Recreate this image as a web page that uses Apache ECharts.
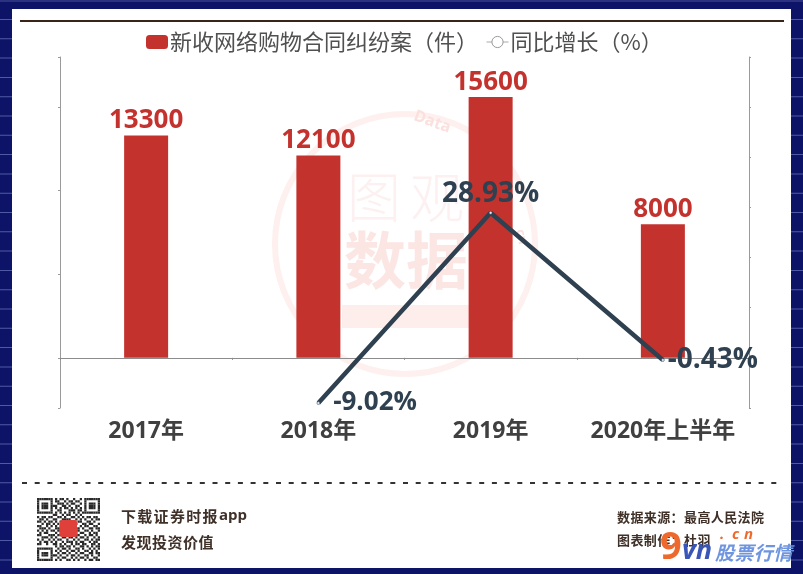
<!DOCTYPE html>
<html><head><meta charset="utf-8">
<style>html,body{margin:0;padding:0;background:#0d1468}#c{width:803px;height:574px}</style>
<script src="https://cdn.jsdelivr.net/npm/echarts@6/dist/echarts.min.js"></script>
</head><body><div id="c"></div>
<script>
var categories=['2017年','2018年','2019年','2020年上半年'];
var cases=[13300,12100,15600,8000];
var growth=[null,-9.02,28.93,-0.43];
var growthLabels=['','-9.02%','28.93%','-0.43%'];
var barName='新收网络购物合同纠纷案（件）';
var lineName='同比增长（%）';
var growthLabelPlace=[null,{position:'right',distance:13,fontSize:26},{position:'top',distance:3,fontSize:28},{position:'right',distance:3,fontSize:28}];
var FONT='"Open Sans","Noto Sans CJK SC","Noto Sans",sans-serif';
var CJK='"Noto Sans CJK SC","Noto Sans",sans-serif';
var g=[];
g.push({type:'rect',z:-10,shape:{x:0,y:0,width:803,height:574},style:{fill:'#0d1468'}});
g.push({type:'rect',z:-9,shape:{x:0,y:0,width:803,height:2},style:{fill:'#2d3280'}});
for(var y=19;y<574;y+=19.3){g.push({type:'rect',z:-9,shape:{x:0,y:y,width:803,height:1},style:{fill:'#4f5aa4'}});}
g.push({type:'rect',z:-8,shape:{x:12,y:9,width:779,height:559},style:{fill:'#fff'}});
g.push({type:'rect',z:-7,shape:{x:20,y:20,width:764,height:2},style:{fill:'#3a2418'}});
g.push({type:'line',z:-7,shape:{x1:22,y1:483,x2:780,y2:483},style:{stroke:'#333',lineWidth:2,lineDash:[5,7.7]}});
// watermark
var WM='#fbe6e4';
g.push({type:'circle',z:-6,shape:{cx:405,cy:244,r:130},style:{fill:'none',stroke:'#fdf0ee',lineWidth:6}});
g.push({type:'text',z:-6,style:{x:347,y:170,text:'图',font:'200 54px '+CJK,fill:'#fcf1f0'}});
g.push({type:'text',z:-6,style:{x:410,y:170,text:'观',font:'200 54px '+CJK,fill:'#fcf1f0'}});
g.push({type:'text',z:-6,style:{x:344,y:229,text:'数据',font:'bold 62px '+CJK,fill:WM}});
g.push({type:'rect',z:-6,shape:{x:342,y:305,width:140,height:23},style:{fill:'#fdeeec'}});
g.push({type:'text',z:-6,x:417,y:108,rotation:-0.35,style:{x:0,y:0,text:'Data',font:'bold 16px '+FONT,fill:'#fbe0de'}});
g.push({type:'text',z:-6,x:526,y:228,rotation:-1.35,style:{x:0,y:0,text:'cn',font:'bold 13px '+FONT,fill:'#fbe0de'}});
// footer text
function T(x,y,t,s,c,w,f){g.push({type:'text',z:5,style:{x:x,y:y,text:t,font:(w||'bold')+' '+s+'px '+(f||FONT),fill:c||'#3f3028',textVerticalAlign:'middle'}});}
function S(x,y,t,s,p,c,w,f){Array.from(t).forEach(function(ch,i){T(x+i*p,y,ch,s,c,w,f);});}
S(121,516,'下载证券时报',15,16.3,null,null,CJK);
T(219,516,'app',15);
S(121,542,'发现投资价值',15,15.5,null,null,CJK);
S(617,517,'数据来源：最高人民法院',13,13.4,null,null,CJK);
S(617,540,'图表制作：杜羽',13,13.4,null,null,CJK);
T(660,548,'9',38,'#ee6a2c');
T(682,551,'vn',27,'#3a55b8','italic bold');
S(720,535,'.cn',15,12,'#ee6a2c','italic bold');
S(715,553,'股票行情',19,19.4,'#6f95e0','italic bold',CJK);
// QR decoration
var qr=['1111111010110100100101111111','1000001011001011011001000001','1011101001110101100101011101','1011101110011010011001011101','1011101010101101010101011101','1000001001100011101101000001','1111111010101010101011111111','0000000110010110010100000000','1011011001101001101010110110','0110100110011110010101001011','1101011010100101101100110100','0010110101011010110011011001','1100101010110001100101100110','0111010011100000011010011011','1010101101100000011001101001','0101100010100000010110010110','1100011101100000011001011010','0011101010011011010110100101','1010010101100100101001101011','0101101010010111010110010110','1100100110101001011011001101','0000000010110110100110101011','1111111001011010011010010101','1000001010100101101001101010','1011101001011010010110011011','1011101110100101101001101001','1000001001011001010110100110','1111111010100110101001011011'];
var cell=63/28;
qr.forEach(function(r,j){for(var i=0;i<r.length;i++){if(r[i]==='1')g.push({type:'rect',z:4,shape:{x:37+i*cell,y:498+j*cell,width:cell,height:cell},style:{fill:'#2a2a2a'}});}});
g.push({type:'rect',z:5,shape:{x:60,y:520,width:17,height:17,r:2},style:{fill:'#e0403a'}});

var chart=echarts.init(document.getElementById('c'),null,{renderer:'canvas'});
chart.setOption({
 animation:false,
 textStyle:{fontFamily:FONT},
 graphic:{elements:g},
 legend:{top:26,left:141,itemGap:8,itemWidth:22,itemHeight:14,
  textStyle:{fontSize:22,color:'#505050',fontFamily:CJK,padding:[0,0,0,-3]},
  data:[{name:barName,icon:'roundRect'},
        {name:lineName,itemStyle:{color:'#fff',borderColor:'#999',borderWidth:1},lineStyle:{color:'#aaa',width:1}}]},
 grid:{left:60,right:54,top:57,bottom:166},
 xAxis:{type:'category',data:categories,
  axisLine:{onZero:true,lineStyle:{color:'#8c8c8c',width:1}},
  axisTick:{show:true,length:2,lineStyle:{color:'#8c8c8c'}},
  axisLabel:{interval:0,margin:23,fontSize:23,fontWeight:'bold',color:'#404040',fontFamily:FONT,verticalAlign:'middle'}},
 yAxis:[{type:'value',min:-3000,max:18000,
   axisLine:{show:true,lineStyle:{color:'#9a9a9a'}},
   axisTick:{show:true,length:2,lineStyle:{color:'#9a9a9a'},customValues:[-3000,0,5000,10000,15000,18000]},
   axisLabel:{show:false},splitLine:{show:false}},
  {type:'value',min:-10,max:60,interval:10,position:'right',
   axisLine:{show:true,lineStyle:{color:'#9a9a9a'}},
   axisTick:{show:true,length:2,lineStyle:{color:'#9a9a9a'}},
   axisLabel:{show:false},splitLine:{show:false}}],
 series:[
  {name:barName,type:'bar',barWidth:44,data:cases,itemStyle:{color:'#c4322e'},
   label:{show:true,position:'top',distance:2,fontSize:26,fontWeight:'bold',color:'#c4322e',fontFamily:FONT}},
  {name:lineName,type:'line',yAxisIndex:1,symbol:'circle',symbolSize:3,
   data:growth.map(function(v,i){return {value:v,label:growthLabelPlace[i]||{}};}),
   lineStyle:{color:'#2f4050',width:4.5},
   itemStyle:{color:'#dfe6f2',borderColor:'#2f4050',borderWidth:0.5},
   label:{show:true,fontSize:26,fontWeight:'bold',color:'#2f4050',fontFamily:FONT,
    formatter:function(p){return growthLabels[p.dataIndex];}},
   z:3}
 ]
});
</script></body></html>
